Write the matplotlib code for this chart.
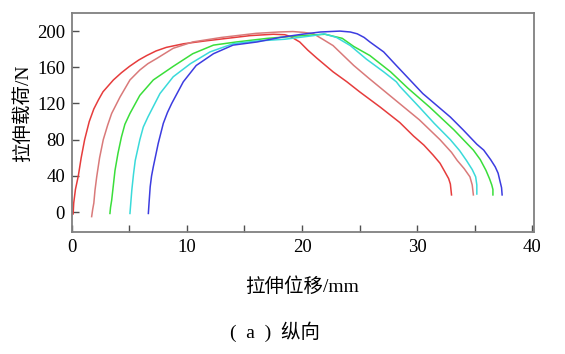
import matplotlib
matplotlib.use('Agg')
import matplotlib.pyplot as plt

plt.rcParams['font.family'] = ['Liberation Serif', 'Noto Sans CJK SC']

# curve 1 (red)
x1 = [0.1, 0.15, 0.3, 0.55, 0.8, 1.1, 1.5, 1.9, 2.3, 2.7, 3.6, 4.3, 5.0, 5.8, 6.5, 7.3, 8.2,
      9.7, 11.5, 13.5, 15.5, 17.5, 18.5, 19.0, 19.8, 20.5, 21.3, 22.7, 23.9, 25.0, 26.8,
      28.5, 29.7, 30.6, 31.4, 32.0, 32.4, 32.75, 32.9, 33.0]
y1 = [-2, 10, 25, 40, 60, 80, 100, 114, 124, 133, 146, 154, 161, 168, 173, 178, 182,
      186, 189, 192, 195, 196.5, 196, 194, 188, 179, 170, 155, 144, 133, 116,
      99, 84, 74, 63, 54, 45, 37, 31, 19]
# curve 2 (salmon)
x2 = [1.71, 1.8, 1.9, 2.0, 2.15, 2.4, 2.72, 3.1, 3.45, 4.17, 5.04, 5.9, 6.6, 7.4, 8.8,
      10.5, 13.0, 16.0, 18.0, 19.2, 20.2, 21.0, 21.8, 22.7, 24.5, 25.8, 28.0, 30.2,
      32.0, 33.0, 33.5, 34.1, 34.6, 34.8, 34.9]
y2 = [-5, 3, 10, 24, 39, 60, 80, 96, 109, 127, 146, 157, 164, 170, 181,
      188, 193, 197.5, 199, 199.5, 198.5, 197, 191, 184, 162, 148, 125, 102,
      80, 66, 57, 48, 39, 30, 19]
# curve 3 (green)
x3 = [3.3, 3.35, 3.45, 3.6, 3.74, 4.0, 4.3, 4.6, 5.04, 5.9, 7.07, 8.8, 10.5, 12.3, 14.3,
      17.0, 20.0, 22.0, 23.5, 24.5, 25.9, 27.7, 29.2, 31.1, 33.2, 34.9, 35.5, 36.0,
      36.3, 36.5, 36.6, 36.6]
y3 = [-1.5, 5, 13, 30, 46, 65, 83, 97, 109, 129, 146, 161, 175, 184.5, 188,
      192, 195, 196.5, 192, 183, 173, 155, 137, 116, 91, 68.5, 58, 46,
      37, 30, 25, 19]
# curve 4 (cyan)
x4 = [5.04, 5.1, 5.2, 5.35, 5.5, 5.9, 6.2, 6.6, 7.65, 8.8, 10.3, 12.0, 14.0, 16.0, 18.5,
      21.0, 21.9, 23.0, 24.2, 25.6, 27.1, 28.2, 28.5, 30.2, 31.5, 32.9, 33.7, 34.3,
      34.8, 35.1, 35.2, 35.2]
y4 = [-1.5, 8, 24, 42, 57, 80, 94, 105, 131, 149.5, 164, 177, 186, 189, 191,
      195, 197, 193, 184, 169, 155, 144, 139, 116, 98, 80, 68, 57,
      47, 39, 30, 20]
# curve 5 (blue)
x5 = [6.64, 6.7, 6.8, 6.92, 7.07, 7.5, 7.94, 8.3, 8.67, 9.68, 10.8, 12.3, 14.0, 16.1,
      18.1, 20.0, 21.6, 23.3, 24.2, 24.8, 25.4, 25.9, 27.1, 28.2, 30.5, 32.9, 34.0,
      35.2, 35.8, 36.4, 36.8, 37.05, 37.2, 37.35, 37.4]
y5 = [-1.5, 10, 28, 40, 50, 76, 98, 110, 120, 144, 162, 175, 184.5, 188,
      193, 196.5, 199, 200, 199, 197, 193, 188, 177, 162, 131, 105, 91,
      75, 68.5, 58, 50, 43, 35, 27, 19]

curves = [(x1, y1, '#e63c3c'), (x2, y2, '#d97a7a'), (x3, y3, '#3ade3a'),
          (x4, y4, '#3adada'), (x5, y5, '#3c3ce0')]

fig = plt.figure(figsize=(5.65, 3.54), dpi=100)
ax = fig.add_axes([0.1274, 0.3446, 0.8177, 0.6187])
for xs, ys, c in curves:
    ax.plot(xs, ys, color=c, lw=1.1)

ax.set_xlim(0, 40.17)
ax.set_ylim(-22, 220)
ax.set_xticks([0, 10, 20, 30, 40])
ax.set_xticks([5, 15, 25, 35], minor=True)
ax.set_yticks([0, 40, 80, 120, 160, 200])
ax.tick_params(direction='in', length=5, width=1, color='#505050', labelsize=13.5, pad=5)
ax.tick_params(which='minor', direction='in', length=5, width=1, color='#505050')
for s in ax.spines.values():
    s.set_color('#808080')
    s.set_linewidth(1.3)

ax.set_xlabel('拉伸位移/mm', fontsize=14)
ax.xaxis.set_label_coords(0.498, -0.205)
ax.set_ylabel('拉伸载荷/N', fontsize=14)
ax.yaxis.set_label_coords(-0.0866, 0.543)
fig.text(0.4876, 0.062, '(  a  )  纵向', fontsize=14, ha='center', va='center')

plt.savefig('out.png', dpi=100)
